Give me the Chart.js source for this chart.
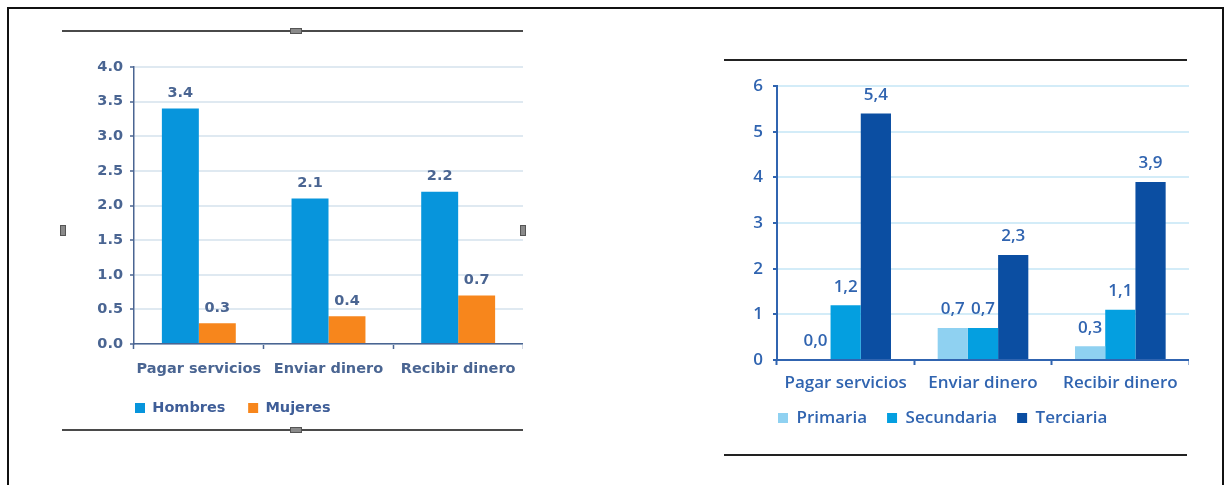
<!DOCTYPE html>
<html lang="es">
<head>
<meta charset="utf-8">
<title>Uso de servicios financieros</title>
<script src="https://cdn.jsdelivr.net/npm/chart.js@4.4.1/dist/chart.umd.min.js"></script>
<style>
  body { margin: 0; background: #fff; width: 1230px; height: 485px; overflow: hidden; position: relative; }
  .linea { position: absolute; background: #4a4a4a; height: 2px; }
  .asa { position: absolute; background: #8a8a8a; border: 1px solid #555; }
  canvas { position: absolute; }
  #marco { position: absolute; left: 7px; top: 7px; width: 1213px; height: 490px; border: 2px solid #111; }
</style>
</head>
<body>
<div id="marco"></div>

<!-- recuadro del primer grafico -->
<div class="linea" style="left:62px;top:30px;width:461px"></div>
<div class="linea" style="left:62px;top:429px;width:461px"></div>
<div class="asa" style="left:290px;top:28px;width:10px;height:4px"></div>
<div class="asa" style="left:290px;top:427px;width:10px;height:4px"></div>
<div class="asa" style="left:60px;top:225px;width:4px;height:9px"></div>
<div class="asa" style="left:520px;top:225px;width:4px;height:9px"></div>

<!-- lineas del segundo grafico -->
<div class="linea" style="left:724px;top:59px;width:463px;background:#222"></div>
<div class="linea" style="left:724px;top:454px;width:463px;background:#222"></div>

<canvas id="graficaSexo" width="461" height="390" style="left:62px;top:40px"></canvas>
<canvas id="graficaEducacion" width="465" height="380" style="left:724px;top:66px"></canvas>

<script>
// datos
var categorias = ['Pagar servicios', 'Enviar dinero', 'Recibir dinero'];
var hombres = [3.4, 2.1, 2.2];
var mujeres = [0.3, 0.4, 0.7];
var primaria = [0.0, 0.7, 0.3];
var secundaria = [1.2, 0.7, 1.1];
var terciaria = [5.4, 2.3, 3.9];
var ticksSexo = [0, 0.5, 1, 1.5, 2, 2.5, 3, 3.5, 4];
var ticksEducacion = [0, 1, 2, 3, 4, 5, 6];

// escribe el valor encima de cada barra
var etiquetas = {
    id: 'etiquetas',
    afterDatasetsDraw: function (chart, args, opts) {
        var ctx = chart.ctx;
        ctx.save();
        ctx.font = opts.font;
        ctx.fillStyle = opts.color;
        ctx.textAlign = 'center';
        ctx.textBaseline = 'bottom';
        chart.data.datasets.forEach(function (ds, i) {
            chart.getDatasetMeta(i).data.forEach(function (barra, j) {
                ctx.fillText(opts.formato(ds.data[j]), barra.x, barra.y - opts.separacion);
            });
        });
        ctx.restore();
    }
};

// mueve la leyenda a la posicion pedida (x del primer cuadro, y del centro)
var posLeyenda = {
    id: 'posLeyenda',
    afterLayout: function (chart, args, opts) {
        var ley = chart.legend;
        var lab = chart.options.plugins.legend.labels;
        var alto = Math.max(lab.boxHeight, lab.font.size);
        ley.left = opts.x - lab.padding;
        ley.top = opts.y - lab.padding - alto / 2;
    }
};

function fijarTicks(valores) {
    return function (scale) {
        scale.ticks = valores.map(function (v) { return { value: v }; });
    };
}

var fuenteA = "'DejaVu Sans', sans-serif";
var fuenteB = "'Open Sans', sans-serif";

// grafica por sexo
var azulGris = '#4a6592';
new Chart(document.getElementById('graficaSexo'), {
    type: 'bar',
    data: {
        labels: categorias,
        datasets: [
            { label: 'Hombres', data: hombres, backgroundColor: '#0795dc' },
            { label: 'Mujeres', data: mujeres, backgroundColor: '#f7861c' }
        ]
    },
    plugins: [etiquetas, posLeyenda],
    options: {
        responsive: false,
        animation: false,
        layout: { padding: { left: 0, top: 27, right: 0, bottom: 0.8 } },
        datasets: { bar: { categoryPercentage: 0.57, barPercentage: 1 } },
        scales: {
            x: {
                afterFit: function (s) { s.height = 38; s.paddingLeft = 0; s.paddingRight = 0; },
                grid: { drawOnChartArea: false, tickLength: 5, tickColor: azulGris, tickWidth: 1.5 },
                border: { color: azulGris, width: 1.5 },
                ticks: {
                    color: azulGris, padding: 12, maxRotation: 0, minRotation: 0, autoSkip: false,
                    font: { family: fuenteA, size: 14.5, weight: 'bold' }
                }
            },
            y: {
                min: 0, max: 4,
                afterFit: function (s) { s.width = 72; },
                afterBuildTicks: fijarTicks(ticksSexo),
                grid: { color: '#dfe9f1', lineWidth: 2, tickLength: 4, tickColor: azulGris, tickWidth: 1.5 },
                border: { color: azulGris, width: 1.5 },
                ticks: {
                    color: azulGris, padding: 7,
                    font: { family: fuenteA, size: 14.5, weight: 'bold' },
                    callback: function (v) { return v.toFixed(1); }
                }
            }
        },
        plugins: {
            tooltip: { enabled: false },
            legend: {
                position: 'bottom', align: 'start',
                labels: {
                    boxWidth: 10, boxHeight: 10, padding: 22.7, color: '#3f5e98',
                    font: { family: fuenteA, size: 14.5, weight: 'bold' }
                }
            },
            posLeyenda: { x: 73, y: 368 },
            etiquetas: {
                font: 'bold 14.5px ' + fuenteA, color: azulGris, separacion: 8,
                formato: function (v) { return v.toFixed(1); }
            }
        }
    }
});

// grafica por nivel educativo
var azul = '#3064b0';
new Chart(document.getElementById('graficaEducacion'), {
    type: 'bar',
    data: {
        labels: categorias,
        datasets: [
            { label: 'Primaria', data: primaria, backgroundColor: '#8fd1f1' },
            { label: 'Secundaria', data: secundaria, backgroundColor: '#049fe0' },
            { label: 'Terciaria', data: terciaria, backgroundColor: '#0b4ea2' }
        ]
    },
    plugins: [etiquetas, posLeyenda],
    options: {
        responsive: false,
        animation: false,
        layout: { padding: { left: 0, top: 17, right: 0, bottom: 1 } },
        datasets: { bar: { categoryPercentage: 0.66, barPercentage: 1 } },
        scales: {
            x: {
                afterFit: function (s) { s.height = 38; s.paddingLeft = 0; s.paddingRight = 0; },
                grid: { drawOnChartArea: false, tickLength: 5, tickColor: azul, tickWidth: 2 },
                border: { color: azul, width: 2 },
                ticks: {
                    color: azul, padding: 8, maxRotation: 0, minRotation: 0, autoSkip: false,
                    font: { family: fuenteB, size: 17, weight: 600 }
                }
            },
            y: {
                min: 0, max: 6,
                afterFit: function (s) { s.width = 53; },
                afterBuildTicks: fijarTicks(ticksEducacion),
                grid: { color: '#d3ecf8', lineWidth: 2, tickLength: 4, tickColor: azul, tickWidth: 2 },
                border: { color: azul, width: 2 },
                ticks: { color: azul, padding: 10, font: { family: fuenteB, size: 17, weight: 600 } }
            }
        },
        plugins: {
            tooltip: { enabled: false },
            legend: {
                position: 'bottom', align: 'start',
                labels: {
                    boxWidth: 10, boxHeight: 10, padding: 20, color: azul,
                    font: { family: fuenteB, size: 17, weight: 600 }
                }
            },
            posLeyenda: { x: 54, y: 352 },
            etiquetas: {
                font: '600 17px ' + fuenteB, color: azul, separacion: 10,
                formato: function (v) { return v.toFixed(1).replace('.', ','); }
            }
        }
    }
});
</script>
</body>
</html>
